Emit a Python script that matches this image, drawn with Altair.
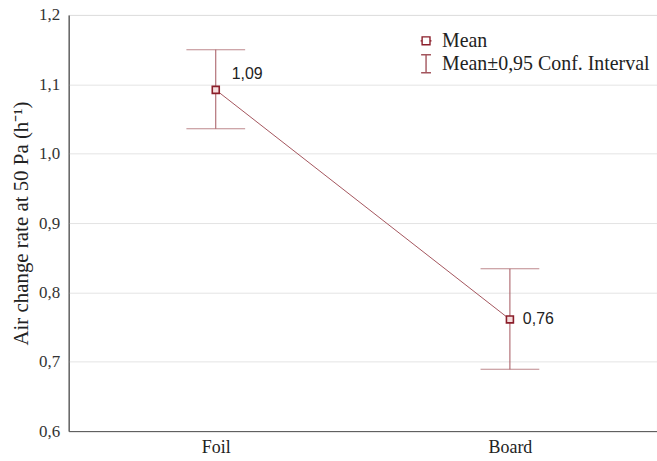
import altair as alt
import pandas as pd

groups = ["Foil", "Board"]
means = [1.092, 0.761]
ci_low = [1.036, 0.689]
ci_high = [1.150, 0.834]
mean_labels = ["1,09", "0,76"]
legend_names = ["Mean", "Mean±0,95 Conf. Interval"]

df = pd.DataFrame({"group": groups, "mean": means, "lo": ci_low, "hi": ci_high, "label": mean_labels})
leg = pd.DataFrame({"name": legend_names})

LINE = "#a3555d"
MARK = "#8b1e2a"
SERIF = "Liberation Serif"
YTITLE = "Air change rate at 50 Pa (h⁻¹)"

xenc = alt.X("group:N", sort=groups, title=None,
             scale=alt.Scale(type="point", padding=0.5),
             axis=alt.Axis(labelAngle=0, tickSize=0, labelPadding=8, grid=False,
                           labelFont=SERIF, labelFontSize=18, labelColor="#222"))
yscale = alt.Scale(domain=[0.6, 1.2], nice=False, zero=False)
yaxis = alt.Axis(values=[0.6, 0.7, 0.8, 0.9, 1.0, 1.1, 1.2],
                 labelExpr="replace(format(datum.value, '.1f'), '.', ',')",
                 labelFont=SERIF, labelFontSize=17, labelColor="#333",
                 tickSize=0, labelPadding=9,
                 gridColor="#e4e4e4", titleFont=SERIF, titleFontSize=21,
                 titleFontWeight="normal", titleColor="#222", titlePadding=7)


def yf(f):
    return alt.Y(f, scale=yscale, title=YTITLE, axis=yaxis)


base = alt.Chart(df)

line = base.mark_line(color=LINE, strokeWidth=1).encode(x=xenc, y=yf("mean:Q"))
bars = base.mark_rule(color=LINE, strokeWidth=1).encode(x=xenc, y=yf("lo:Q"), y2="hi:Q")
cap_hi = base.mark_tick(color=LINE, size=59, thickness=1).encode(x=xenc, y=yf("hi:Q"))
cap_lo = base.mark_tick(color=LINE, size=59, thickness=1).encode(x=xenc, y=yf("lo:Q"))
pts = base.mark_point(shape="square", size=49, filled=True, fill="#f6dede", stroke=MARK,
                      strokeWidth=1.6, opacity=1).encode(x=xenc, y=yf("mean:Q"))

txt_foil = base.transform_filter(alt.datum.group == "Foil").mark_text(
    font="Liberation Sans", fontSize=16, color="#222", align="left", baseline="middle", dx=16, dy=-16
).encode(x=xenc, y=yf("mean:Q"), text="label:N")
txt_board = base.transform_filter(alt.datum.group == "Board").mark_text(
    font="Liberation Sans", fontSize=16, color="#222", align="left", baseline="middle", dx=13, dy=0
).encode(x=xenc, y=yf("mean:Q"), text="label:N")

legend_spec = alt.Legend(title=None, orient="none", legendX=347, legendY=14,
                         padding=0, rowPadding=1, labelOffset=4,
                         symbolSize=484, symbolStrokeWidth=1.4, symbolOpacity=1,
                         labelFont=SERIF, labelFontSize=20,
                         labelColor="#222", labelLimit=400)

legend_layer = alt.Chart(leg).transform_filter("false").mark_point(filled=False).encode(
    shape=alt.Shape("name:N", sort=legend_names,
                    scale=alt.Scale(domain=legend_names,
                                    range=["M-0.5,0H-0.36M0.36,0H0.5M-0.36,-0.36H0.36V0.36H-0.36Z",
                                           "M0,-0.82V0.82M-0.45,-0.82H0.45M-0.45,0.82H0.45"]),
                    legend=legend_spec),
    color=alt.Color("name:N", sort=legend_names,
                    scale=alt.Scale(domain=legend_names, range=[MARK, LINE]),
                    legend=legend_spec),
)

chart = alt.layer(line, bars, cap_hi, cap_lo, pts, txt_foil, txt_board, legend_layer).properties(
    width=591, height=418,
    autosize=alt.AutoSizeParams(type="none"),
    padding={"left": 69, "top": 14, "right": 0, "bottom": 29},
    background="white",
).configure_view(stroke="#666", strokeWidth=1).configure_axis(domainColor="#555")

chart.save("out.html", embed_options={"renderer": "svg", "actions": False})
